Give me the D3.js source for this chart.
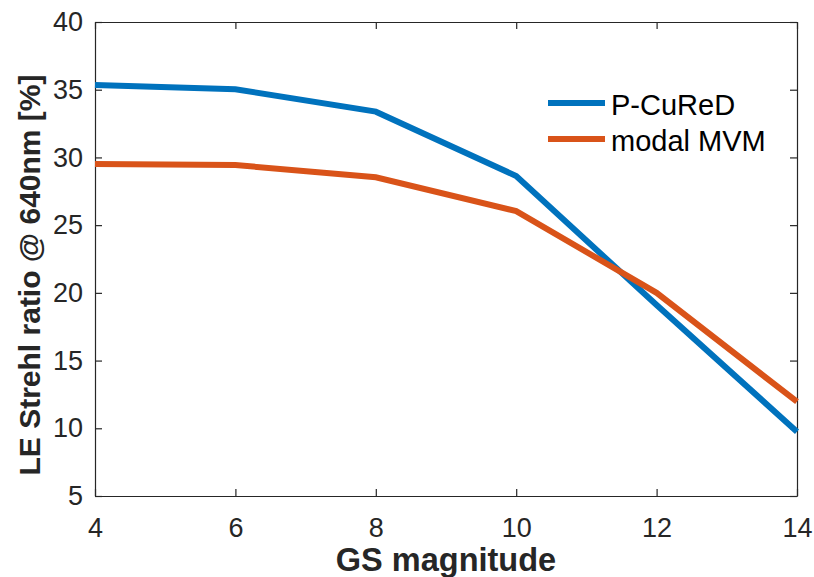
<!DOCTYPE html>
<html>
<head>
<meta charset="utf-8">
<script src="https://cdn.jsdelivr.net/npm/d3@7"></script>
<style>
  body { margin: 0; background: #fff; }
  text { font-family: "Liberation Sans", Arial, sans-serif; fill: #262626; }
</style>
</head>
<body>
<div id="chart"></div>
<script>
// values
var magnitudes = [4, 6, 8, 10, 12, 14];
var pcured = [35.35, 35.03, 33.38, 28.63, 19.1, 9.75];
var modalMvm = [29.51, 29.44, 28.53, 26.04, 20.0, 11.96];
var seriesNames = ["P-CuReD", "modal MVM"];
var seriesColors = ["#0072BD", "#D95319"];
var xTicks = [4, 6, 8, 10, 12, 14];
var yTicks = [5, 10, 15, 20, 25, 30, 35, 40];

var w = 814, h = 577;
var pLeft = 95, pRight = 797, pTop = 22, pBottom = 496;

var svg = d3.select("#chart")
    .append("svg")
    .attr("width", w)
    .attr("height", h);

var x = d3.scaleLinear().domain([4, 14]).range([pLeft, pRight]);
var y = d3.scaleLinear().domain([5, 40]).range([pBottom, pTop]);

// axes on all four sides, ticks pointing inward
svg.append("g")
    .attr("transform", "translate(0," + pBottom + ")")
    .call(d3.axisBottom(x).tickValues(xTicks).tickSizeInner(-7).tickSizeOuter(0).tickPadding(22))
    .call(function(g) {
        g.selectAll("text").style("font-size", "27px").attr("dy", "0.71em");
    });
svg.append("g")
    .attr("transform", "translate(0," + pTop + ")")
    .call(d3.axisTop(x).tickValues(xTicks).tickSizeInner(-7).tickSizeOuter(0).tickFormat(""));
svg.append("g")
    .attr("transform", "translate(" + pLeft + ",0)")
    .call(d3.axisLeft(y).tickValues(yTicks).tickSizeInner(-7).tickSizeOuter(0).tickPadding(12))
    .call(function(g) {
        g.selectAll("text").style("font-size", "27px");
    });
svg.append("g")
    .attr("transform", "translate(" + pRight + ",0)")
    .call(d3.axisRight(y).tickValues(yTicks).tickSizeInner(-7).tickSizeOuter(0).tickFormat(""));

svg.selectAll(".domain").attr("stroke", "#262626").attr("stroke-width", 1.2);
svg.selectAll(".tick line").attr("stroke", "#262626").attr("stroke-width", 1.2);
svg.selectAll(".tick text").attr("fill", "#262626").style("font-family", "'Liberation Sans', Arial, sans-serif");

// lines
var line = d3.line()
    .x(function(d, i) { return x(magnitudes[i]); })
    .y(function(d) { return y(d); });

[pcured, modalMvm].forEach(function(s, k) {
    svg.append("path")
        .datum(s)
        .attr("d", line)
        .attr("fill", "none")
        .attr("stroke", seriesColors[k])
        .attr("stroke-width", 6)
        .attr("stroke-linejoin", "miter");
});

// legend
var legend = svg.append("g");
seriesNames.forEach(function(name, k) {
    var ly = 103 + k * 36;
    legend.append("line")
        .attr("x1", 548).attr("x2", 605)
        .attr("y1", ly).attr("y2", ly)
        .attr("stroke", seriesColors[k])
        .attr("stroke-width", 6);
    legend.append("text")
        .attr("x", 611)
        .attr("y", ly + 12)
        .style("font-size", "29px")
        .style("fill", "#000")
        .text(name);
});

// axis labels
svg.append("text")
    .attr("x", 446)
    .attr("y", 571)
    .attr("text-anchor", "middle")
    .style("font-size", "32.5px")
    .style("font-weight", "bold")
    .text("GS magnitude");

svg.append("text")
    .attr("transform", "translate(40," + ((pTop + pBottom) / 2 + 16) + ") rotate(-90)")
    .attr("text-anchor", "middle")
    .style("font-size", "30px")
    .style("font-weight", "bold")
    .text("LE Strehl ratio @ 640nm [%]");
</script>
</body>
</html>
